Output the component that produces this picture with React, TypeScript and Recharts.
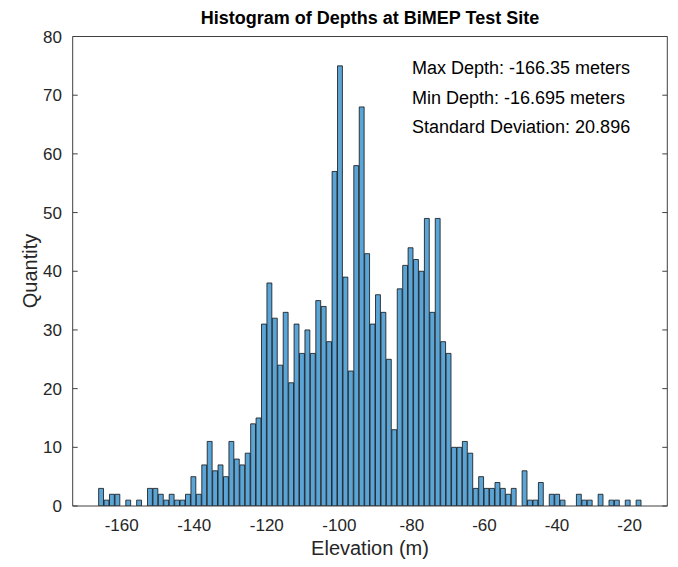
import { Bar, BarChart, XAxis, YAxis } from "recharts"

// histogram bins: 100 bins from max depth to min depth
const BIN_START = -166.35
const BIN_END = -16.695
const COUNTS = [
    3, 1, 2, 2, 0, 1, 0, 1, 0, 3,
    3, 2, 1, 2, 1, 1, 2, 5, 2, 7,
    11, 6, 7, 5, 11, 8, 7, 9, 14, 15,
    31, 38, 32, 24, 33, 21, 31, 26, 30, 26,
    35, 34, 28, 57, 75, 39, 23, 58, 68, 43,
    31, 36, 33, 25, 13, 37, 41, 44, 42, 40,
    49, 33, 49, 28, 26, 10, 10, 11, 9, 3,
    5, 3, 3, 4, 3, 2, 3, 0, 6, 1,
    1, 4, 0, 2, 2, 1, 0, 0, 2, 1,
    1, 0, 2, 0, 1, 1, 0, 1, 0, 1,
]
const X_TICKS = [-160, -140, -120, -100, -80, -60, -40, -20]
const Y_TICKS = [0, 10, 20, 30, 40, 50, 60, 70, 80]
const X_DOMAIN: [number, number] = [-173.5, -9.6]
const Y_DOMAIN: [number, number] = [0, 80]
const NOTES = ["Max Depth: -166.35 meters", "Min Depth: -16.695 meters", "Standard Deviation: 20.896"]

const binWidth = (BIN_END - BIN_START) / COUNTS.length
const data = COUNTS.map((count, i) => ({
    center: BIN_START + binWidth * (i + 0.5),
    count,
}))

const W = 662
const H = 551
const PLOT_LEFT = 64.7
const PLOT_RIGHT = 2.7
const PLOT_TOP = 28.5
const X_AXIS_H = 53
const plotWidth = W - PLOT_LEFT - PLOT_RIGHT
const barSize = (binWidth * plotWidth) / (X_DOMAIN[1] - X_DOMAIN[0])

const FONT = '"Liberation Sans", Arial, sans-serif'
const AXIS = "#404040"
const tickStyle = { fill: "#262626", fontSize: 17, fontFamily: FONT }
const noLabel = () => ""

const centered = (x: number, y: number): React.CSSProperties => ({
    position: "absolute",
    left: x,
    top: y,
    transform: "translate(-50%, -50%)",
    whiteSpace: "nowrap",
    lineHeight: 1,
    fontFamily: FONT,
})

export default function App() {
    return (
        <div style={{ position: "relative", width: W, height: H }}>
            <BarChart
                width={W}
                height={H}
                data={data}
                margin={{ top: PLOT_TOP, right: PLOT_RIGHT, bottom: 0, left: 0 }}
            >
                <XAxis
                    xAxisId="main"
                    dataKey="center"
                    type="number"
                    domain={X_DOMAIN}
                    ticks={X_TICKS}
                    allowDataOverflow
                    height={X_AXIS_H}
                    tickLine={false}
                    tickSize={5}
                    tickMargin={8}
                    axisLine={{ stroke: AXIS }}
                    tick={tickStyle}
                />
                {/* inward tick marks and the box on the other two sides */}
                <XAxis
                    xAxisId="bottomTicks"
                    type="number"
                    domain={X_DOMAIN}
                    ticks={X_TICKS}
                    allowDataOverflow
                    mirror
                    height={1}
                    axisLine={false}
                    tickSize={5}
                    tickLine={{ stroke: AXIS }}
                    tickFormatter={noLabel}
                />
                <XAxis
                    xAxisId="top"
                    orientation="top"
                    type="number"
                    domain={X_DOMAIN}
                    ticks={X_TICKS}
                    allowDataOverflow
                    mirror
                    height={1}
                    axisLine={{ stroke: AXIS }}
                    tickSize={5}
                    tickLine={{ stroke: AXIS }}
                    tickFormatter={noLabel}
                />
                <YAxis
                    yAxisId="main"
                    domain={Y_DOMAIN}
                    ticks={Y_TICKS}
                    allowDataOverflow
                    width={PLOT_LEFT}
                    tickLine={false}
                    tickSize={5}
                    tickMargin={5.7}
                    axisLine={{ stroke: AXIS }}
                    tick={tickStyle}
                />
                <YAxis
                    yAxisId="leftTicks"
                    domain={Y_DOMAIN}
                    ticks={Y_TICKS}
                    allowDataOverflow
                    mirror
                    width={1}
                    axisLine={false}
                    tickSize={5}
                    tickLine={{ stroke: AXIS }}
                    tickFormatter={noLabel}
                />
                <YAxis
                    yAxisId="right"
                    orientation="right"
                    domain={Y_DOMAIN}
                    ticks={Y_TICKS}
                    allowDataOverflow
                    mirror
                    width={1}
                    axisLine={{ stroke: AXIS }}
                    tickSize={5}
                    tickLine={{ stroke: AXIS }}
                    tickFormatter={noLabel}
                />
                <Bar
                    xAxisId="main"
                    yAxisId="main"
                    dataKey="count"
                    barSize={barSize}
                    fill="#5ba4d6"
                    stroke="#111"
                    strokeWidth={0.8}
                    isAnimationActive={false}
                />
            </BarChart>

            <div style={{ ...centered(362, 9.5), fontSize: 18, fontWeight: "bold", color: "#000" }}>
                Histogram of Depths at BiMEP Test Site
            </div>
            <div style={{ ...centered(22, 263), fontSize: 20, color: "#262626", transform: "translate(-50%, -50%) rotate(-90deg)" }}>
                Quantity
            </div>
            <div style={{ ...centered(362, 540), fontSize: 20, color: "#262626" }}>
                Elevation (m)
            </div>
            {NOTES.map((note, i) => (
                <div
                    key={note}
                    style={{
                        position: "absolute",
                        left: 404,
                        top: 60 + i * 29.5,
                        transform: "translateY(-50%)",
                        whiteSpace: "nowrap",
                        lineHeight: 1,
                        fontFamily: FONT,
                        fontSize: 18,
                        color: "#000",
                    }}
                >
                    {note}
                </div>
            ))}
        </div>
    )
}
